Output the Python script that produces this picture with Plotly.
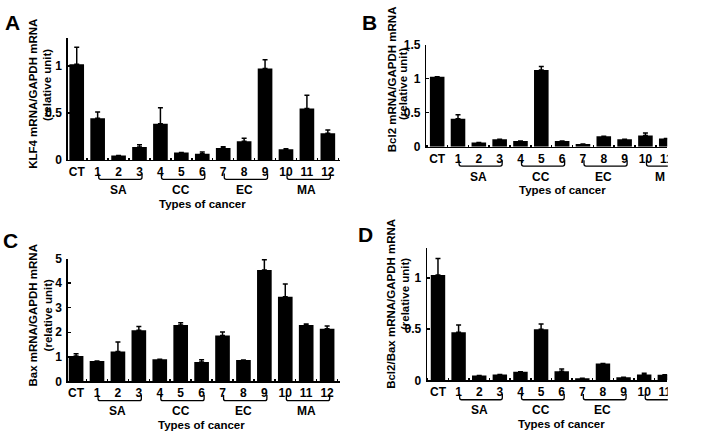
import plotly.graph_objects as go

W, H = 708, 438

categories = ["CT", "1", "2", "3", "4", "5", "6", "7", "8", "9", "10", "11", "12"]
groups = [("SA", 1, 3), ("CC", 4, 6), ("EC", 7, 9), ("MA", 10, 12)]

klf4 = [1.02, 0.445, 0.048, 0.137, 0.387, 0.079, 0.065, 0.127, 0.20, 0.976, 0.113, 0.548, 0.284]
klf4_err = [0.18, 0.065, 0.0, 0.025, 0.17, 0.0, 0.02, 0.013, 0.03, 0.092, 0.007, 0.142, 0.036]

bcl2 = [1.03, 0.41, 0.06, 0.11, 0.085, 1.13, 0.085, 0.04, 0.155, 0.11, 0.165, 0.12, 0.12]
bcl2_err = [0.0, 0.06, 0.0, 0.0, 0.0, 0.05, 0.0, 0.0, 0.0, 0.0, 0.035, 0.0, 0.0]

bax = [1.03, 0.83, 1.22, 2.08, 0.90, 2.30, 0.79, 1.87, 0.87, 4.54, 3.45, 2.30, 2.14]
bax_err = [0.09, 0.0, 0.38, 0.16, 0.0, 0.09, 0.09, 0.14, 0.0, 0.42, 0.52, 0.04, 0.12]

ratio = [1.03, 0.47, 0.047, 0.057, 0.085, 0.50, 0.09, 0.02, 0.164, 0.03, 0.057, 0.055, 0.05]
ratio_err = [0.16, 0.07, 0.0, 0.0, 0.0, 0.05, 0.02, 0.0, 0.0, 0.0, 0.013, 0.0, 0.0]

panels = [
    dict(letter="A", vals=klf4, err=klf4_err, t1="KLF4 mRNA/GAPDH mRNA",
         yt=[0, 0.5, 1], ytt=["0", "0.5", "1"], xd=(68.3, 343.3), yd=(32, 158),
         xr=(-0.43, 12.6), yr=(0, 1.3), lp=(13, 16), t1p=(33, 90), t2p=(48, 81)),
    dict(letter="B", vals=bcl2, err=bcl2_err, t1="Bcl2 mRNA/GAPDH mRNA",
         yt=[0, 0.5, 1, 1.5], ytt=["0", "0.5", "1", "1.5"], xd=(430, 673), yd=(39, 144.3),
         xr=(-0.52, 11.05), yr=(0, 1.5), lp=(373, 16), t1p=(395, 75), t2p=(407, 80)),
    dict(letter="C", vals=bax, err=bax_err, t1="Bax mRNA/GAPDH mRNA",
         yt=[0, 1, 2, 3, 4, 5], ytt=["0", "1", "2", "3", "4", "5"], xd=(68.3, 343), yd=(260, 386.7),
         xr=(-0.4, 12.62), yr=(0, 5), lp=(11, 241), t1p=(33, 318), t2p=(48, 319)),
    dict(letter="D", vals=ratio, err=ratio_err, t1="Bcl2/Bax mRNA/GAPDH mRNA",
         yt=[0, 0.5, 1], ytt=["0", "0.5", "1"], xd=(430.7, 673), yd=(249.3, 385.7),
         xr=(-0.53, 11.12), yr=(0, 1.29), lp=(369, 235), t1p=(395, 307), t2p=(408, 297)),
]

FONT = "Arial, Liberation Sans, sans-serif"

def px(x):
    return x / W

def py(y):
    return 1 - y / H

fig = go.Figure()
shapes = []
annotations = []
layout = {}

for i, p in enumerate(panels):
    n = "" if i == 0 else str(i + 1)
    xa, ya = "x" + n, "y" + n
    fig.add_trace(go.Bar(
        x=list(range(len(categories))), y=p["vals"], xaxis=xa, yaxis=ya,
        marker=dict(color="black", line=dict(width=0)), width=0.7,
        error_y=dict(type="data", symmetric=False, array=p["err"],
                     arrayminus=[0] * len(p["err"]), color="black",
                     thickness=1.5, width=2.5),
        showlegend=False, hoverinfo="skip"))
    x0, x1 = p["xd"]
    ytop, ybot = p["yd"]
    layout["xaxis" + n] = dict(
        domain=[px(x0), px(x1)], range=list(p["xr"]), anchor=ya,
        tickmode="array", tickvals=list(range(len(categories))), ticktext=categories,
        ticks="", showline=True, linecolor="black", linewidth=1.5,
        showgrid=False, zeroline=False, fixedrange=True,
        tickfont=dict(size=12, color="black", family=FONT, weight="bold"),
        minor=dict(tickmode="linear", tick0=0.5, dtick=1, ticks="inside",
                   ticklen=2, tickwidth=1.5, tickcolor="black", showgrid=False),
    )
    layout["yaxis" + n] = dict(
        domain=[py(ybot), py(ytop)], range=list(p["yr"]), anchor=xa,
        tickmode="array", tickvals=p["yt"], ticktext=p["ytt"],
        ticks="inside", ticklen=3, tickwidth=1.5, tickcolor="black",
        showline=True, linecolor="black", linewidth=1.5,
        showgrid=False, zeroline=False, fixedrange=True, ticklabelstandoff=2,
        tickfont=dict(size=12, color="black", family=FONT, weight="bold"),
    )

    r0, r1 = p["xr"]
    def dx(v, r0=r0, r1=r1, x0=x0, x1=x1):
        return x0 + (v - r0) / (r1 - r0) * (x1 - x0)

    for name, a, b in groups:
        xa_px = dx(a + 0.05)
        xb_px = dx(b + 0.12)
        yt_ = ybot + 14
        yb_ = ybot + 20
        path = (f"M {px(xa_px)},{py(yt_)} L {px(xa_px)},{py(yb_ - 2)} "
                f"Q {px(xa_px)},{py(yb_)} {px(xa_px + 2)},{py(yb_)} "
                f"L {px(xb_px - 2)},{py(yb_)} Q {px(xb_px)},{py(yb_)} {px(xb_px)},{py(yb_ - 2)} "
                f"L {px(xb_px)},{py(yt_)}")
        shapes.append(dict(type="path", xref="paper", yref="paper", path=path,
                           line=dict(color="black", width=1.3)))
        cx = dx((a + b) / 2)
        label = name
        xanchor = "center"
        if cx > x1 - 20:
            # group label cut by the figure's right edge
            if p["letter"] == "B":
                label, cx, xanchor = "M", 673, "right"
            else:
                label = ""
        if label:
            annotations.append(dict(x=px(cx), y=py(ybot + 31), xref="paper", yref="paper",
                                    text=label, showarrow=False, xanchor=xanchor, yanchor="middle",
                                    font=dict(size=12, color="black", family=FONT, weight="bold")))
    annotations.append(dict(x=px(dx(6.0)), y=py(ybot + 45), xref="paper", yref="paper",
                            text="Types of cancer", showarrow=False, xanchor="center", yanchor="middle",
                            font=dict(size=11.5, color="black", family=FONT, weight="bold")))
    annotations.append(dict(x=px(p["t1p"][0]), y=py(p["t1p"][1]), xref="paper", yref="paper",
                            text=p["t1"], textangle=-90, showarrow=False,
                            xanchor="center", yanchor="middle",
                            font=dict(size=11.5, color="black", family=FONT, weight="bold")))
    annotations.append(dict(x=px(p["t2p"][0]), y=py(p["t2p"][1]), xref="paper", yref="paper",
                            text="(relative unit)", textangle=-90, showarrow=False,
                            xanchor="center", yanchor="middle",
                            font=dict(size=11.5, color="black", family=FONT, weight="bold")))
    annotations.append(dict(x=px(p["lp"][0]), y=py(p["lp"][1]), xref="paper", yref="paper",
                            text=p["letter"], showarrow=False, xanchor="center", yanchor="middle",
                            font=dict(size=21, color="black", family=FONT, weight="bold")))

shapes.append(dict(type="rect", xref="paper", yref="paper", x0=px(673.5), x1=1.0,
                   y0=0, y1=1, fillcolor="white", line=dict(width=0), layer="above"))

fig.update_layout(
    width=W, height=H, margin=dict(l=0, r=0, t=0, b=0),
    paper_bgcolor="white", plot_bgcolor="white",
    font=dict(family=FONT, color="black", weight="bold"),
    bargap=0.3, shapes=shapes, annotations=annotations, showlegend=False,
    **layout,
)

fig.write_html("out.html", config={"displayModeBar": False, "staticPlot": True},
               post_script="document.body.style.margin='0';document.body.style.overflow='hidden';")
